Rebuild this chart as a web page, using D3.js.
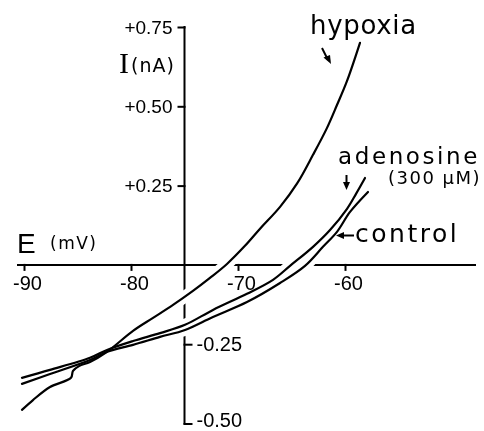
<!DOCTYPE html>
<html><head><meta charset="utf-8">
<script src="https://cdn.jsdelivr.net/npm/d3@7"></script>
<style>body{margin:0;background:#fff}svg{display:block}</style>
</head><body>
<svg id="c" width="484" height="431"></svg>
<script>
// ---- data ----
const xTicks = [-90, -80, -70, -60];
const xTickLabels = ["-90", "-80", "-70", "-60"];
const yTicksPos = [0.75, 0.5, 0.25];
const yTickLabelsPos = ["+0.75", "+0.50", "+0.25"];
const yTicksNeg = [-0.25, -0.5];
const yTickLabelsNeg = ["-0.25", "-0.50"];

const hypoxiaE = [-90.19,-89.16,-87.57,-85.61,-85.42,-84.86,-83.83,-82.24,-79.81,-77.94,-76.07,-74.21,-72.62,-71.03,-69.35,-67.94,-66.07,-64.49,-62.99,-61.68,-60.75,-59.81,-58.60];
const hypoxiaI = [-0.457,-0.426,-0.385,-0.356,-0.334,-0.319,-0.306,-0.274,-0.208,-0.167,-0.126,-0.082,-0.041,0.003,0.060,0.114,0.183,0.256,0.347,0.432,0.504,0.580,0.700];

const adenosineE = [-90.19,-87.57,-83.83,-82.24,-79.81,-77.29,-74.95,-72.34,-69.16,-66.73,-65.14,-62.99,-61.40,-59.81,-58.97,-58.13];
const adenosineI = [-0.356,-0.331,-0.293,-0.268,-0.240,-0.215,-0.189,-0.142,-0.091,-0.047,-0.003,0.057,0.110,0.177,0.224,0.274];

const controlE = [-90.19,-87.57,-83.83,-82.24,-79.81,-77.29,-74.95,-72.34,-69.16,-66.07,-63.74,-62.06,-60.75,-59.53,-57.85];
const controlI = [-0.375,-0.344,-0.300,-0.274,-0.252,-0.227,-0.205,-0.164,-0.117,-0.057,-0.003,0.057,0.104,0.167,0.230];

const seriesNames = ["hypoxia", "adenosine", "control"];

// ---- drawing ----
const svg = d3.select("#c");
const x = d3.scaleLinear().domain([-90, -60]).range([24, 345]);
const y = d3.scaleLinear().domain([-0.5, 0.75]).range([423.5, 27]);
const x0 = x(-75), y0 = y(0);

const series = [
  hypoxiaE.map((e, i) => ({e, i: hypoxiaI[i]})),
  adenosineE.map((e, i) => ({e, i: adenosineI[i]})),
  controlE.map((e, i) => ({e, i: controlI[i]}))
];
const line = d3.line().x(d => x(d.e)).y(d => y(d.i)).curve(d3.curveCatmullRom.alpha(0.5));

// mask to break axis lines where curves cross
const mask = svg.append("defs").append("mask").attr("id", "gap")
  .attr("maskUnits", "userSpaceOnUse").attr("x", 0).attr("y", 0).attr("width", 484).attr("height", 431);
mask.append("rect").attr("width", 484).attr("height", 431).attr("fill", "white");
series.forEach(s => mask.append("path").attr("d", line(s)).attr("fill", "none").attr("stroke", "black").attr("stroke-width", 12));

const gLines = svg.append("g").attr("mask", "url(#gap)");
// x axis lines
const gx = gLines.append("g").attr("transform", `translate(0,${y0})`)
  .call(d3.axisBottom(x).tickValues(xTicks).tickSize(5).tickSizeOuter(0).tickFormat(""));
gx.select(".domain").remove();
gx.append("line").attr("x1", 18).attr("x2", 475).attr("y1", 0).attr("y2", 0);
// y axis lines
const gyl = gLines.append("g").attr("transform", `translate(${x0},0)`)
  .call(d3.axisLeft(y).tickValues(yTicksPos).tickSize(6).tickSizeOuter(0).tickFormat(""));
gyl.select(".domain").remove();
const gyr = gLines.append("g").attr("transform", `translate(${x0},0)`)
  .call(d3.axisRight(y).tickValues(yTicksNeg).tickSize(7).tickSizeOuter(0).tickFormat(""));
gyr.select(".domain").remove();
gyr.append("line").attr("x1", 0).attr("x2", 0).attr("y1", y(0.75)).attr("y2", y(-0.5));
gLines.selectAll("line").attr("stroke", "#000").attr("stroke-width", 2).attr("stroke-linecap", "square");

// tick labels
const fontTick = "'Liberation Sans', Arial, sans-serif";
const lx = svg.append("g").attr("transform", `translate(0,${y0})`)
  .call(d3.axisBottom(x).tickValues(xTicks).tickSize(0).tickPadding(11)
    .tickFormat((d, i) => xTickLabels[i]));
lx.select(".domain").remove();
lx.selectAll("text").attr("font-family", fontTick).attr("font-size", 20).attr("fill", "#000").attr("dx", 3);

const lyl = svg.append("g").attr("transform", `translate(${x0},0)`)
  .call(d3.axisLeft(y).tickValues(yTicksPos).tickSize(0).tickPadding(12)
    .tickFormat((d, i) => yTickLabelsPos[i]));
lyl.select(".domain").remove();
lyl.selectAll("text").attr("font-family", fontTick).attr("font-size", 19).attr("fill", "#000");

const lyr = svg.append("g").attr("transform", `translate(${x0},0)`)
  .call(d3.axisRight(y).tickValues(yTicksNeg).tickSize(0).tickPadding(12)
    .tickFormat((d, i) => yTickLabelsNeg[i]));
lyr.select(".domain").remove();
lyr.selectAll("text").attr("font-family", fontTick).attr("font-size", 20).attr("fill", "#000")
  .attr("dy", (d, i) => i === yTicksNeg.length - 1 ? "0.14em" : "0.32em");

// curves
svg.append("g").selectAll("path").data(series).join("path")
  .attr("d", line).attr("fill", "none").attr("stroke", "#000")
  .attr("stroke-width", 2.2).attr("stroke-linejoin", "round").attr("stroke-linecap", "round");

// axis titles
const fw = "'DejaVu Sans', sans-serif";
svg.append("text").attr("x", 17).attr("y", 253).attr("font-family", fontTick).attr("font-size", 28).text("E");
svg.append("text").attr("x", 50).attr("y", 249).attr("font-family", fw).attr("font-size", 17).attr("letter-spacing", 1.5).text("(mV)");
svg.append("text").attr("x", 124).attr("y", 73).attr("text-anchor", "middle").attr("font-family", "'Liberation Serif', serif").attr("font-size", 30).text("I");
svg.append("text").attr("x", 131).attr("y", 72).attr("font-family", fw).attr("font-size", 19).attr("letter-spacing", 1).text("(nA)");

// series labels
svg.append("text").attr("x", 310).attr("y", 34).attr("font-family", fw).attr("font-size", 26).attr("letter-spacing", 0.7).text(seriesNames[0]);
svg.append("text").attr("x", 338).attr("y", 164).attr("font-family", fw).attr("font-size", 23).attr("letter-spacing", 2.6).text(seriesNames[1]);
svg.append("text").attr("x", 388).attr("y", 184).attr("font-family", fw).attr("font-size", 18).attr("letter-spacing", 1.5).text("(300 μM)");
svg.append("text").attr("x", 355).attr("y", 242).attr("font-family", fw).attr("font-size", 25).attr("letter-spacing", 2.5).text(seriesNames[2]);

// annotation arrows
const ann = svg.append("g").attr("stroke", "#000").attr("stroke-width", 2).attr("fill", "none");
ann.append("line").attr("x1", 322).attr("y1", 48).attr("x2", 328).attr("y2", 60);
svg.append("path").attr("d", "M331,64 L323.5,57.5 L330,55 Z").attr("fill", "#000");
ann.append("line").attr("x1", 346.5).attr("y1", 175).attr("x2", 346.5).attr("y2", 185);
svg.append("path").attr("d", "M346.5,190 L343,182 L350,182 Z").attr("fill", "#000");
ann.append("line").attr("x1", 342).attr("y1", 235.5).attr("x2", 354).attr("y2", 235.5);
svg.append("path").attr("d", "M336,235.5 L344,232 L344,239 Z").attr("fill", "#000");
</script>
</body></html>
